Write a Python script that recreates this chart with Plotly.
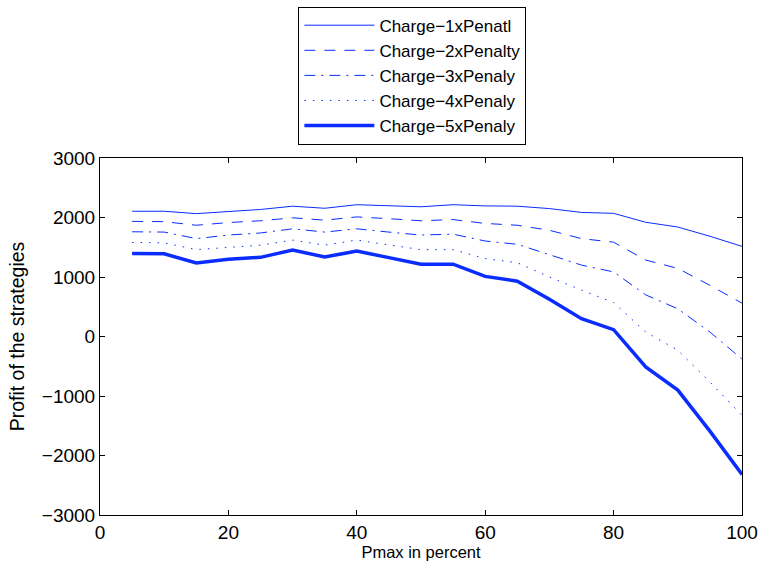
import plotly.graph_objects as go

# Pmax values (percent)
pmax = [5, 10, 15, 20, 25, 30, 35, 40, 45, 50, 55, 60, 65, 70, 75, 80, 85, 90, 95, 100]

# Profit of each strategy, per penalty multiplier
charge_1x = [2105, 2105, 2065, 2095, 2135, 2190, 2155, 2215, 2195, 2180, 2215, 2195, 2190, 2150, 2085, 2070, 1920, 1840, 1685, 1515]
charge_2x = [1935, 1930, 1870, 1915, 1945, 1995, 1955, 2010, 1980, 1945, 1965, 1900, 1870, 1785, 1645, 1585, 1285, 1145, 860, 560]
charge_3x = [1760, 1755, 1645, 1705, 1740, 1810, 1755, 1810, 1755, 1705, 1720, 1605, 1550, 1380, 1200, 1085, 700, 465, 75, -380]
charge_4x = [1580, 1575, 1460, 1495, 1535, 1620, 1535, 1620, 1535, 1460, 1460, 1310, 1240, 1000, 780, 570, 75, -230, -765, -1325]
charge_5x = [1395, 1390, 1235, 1300, 1330, 1455, 1335, 1435, 1325, 1215, 1215, 1010, 930, 625, 300, 115, -510, -900, -1590, -2320]

series_names = ["Charge−1xPenatl", "Charge−2xPenalty", "Charge−3xPenaly", "Charge−4xPenaly", "Charge−5xPenaly"]
x_ticks = [0, 20, 40, 60, 80, 100]
y_ticks = [-3000, -2000, -1000, 0, 1000, 2000, 3000]

blue = "#0a2cff"
styles = [
    dict(width=1, dash="solid"),
    dict(width=1, dash="11px,9px"),
    dict(width=1, dash="11px,6px,2px,6px"),
    dict(width=1, dash="1.5px,7px"),
    dict(width=3.5, dash="solid"),
]

fig = go.Figure()
for name, values, st in zip(series_names, [charge_1x, charge_2x, charge_3x, charge_4x, charge_5x], styles):
    fig.add_trace(go.Scatter(
        x=pmax, y=values, name=name, mode="lines",
        line=dict(color=blue, width=st["width"], dash=st["dash"]),
    ))

font_family = "Liberation Sans, Arial, sans-serif"
axis_common = dict(
    showline=True, linecolor="black", linewidth=1, mirror="ticks",
    ticks="inside", ticklen=5, tickcolor="black", tickwidth=1,
    showgrid=False, zeroline=False, automargin=False,
    tickfont=dict(family=font_family, size=19, color="black"),
)

fig.update_layout(
    width=761, height=566,
    margin=dict(l=99.5, r=18.5, t=158, b=51, autoexpand=False),
    paper_bgcolor="white", plot_bgcolor="white",
    font=dict(family=font_family, color="black"),
    xaxis=dict(range=[0, 100], tickvals=x_ticks,
               title=dict(text="Pmax in percent", font=dict(family=font_family, size=16.5), standoff=0),
               **axis_common),
    yaxis=dict(range=[-3000, 3000], tickvals=y_ticks,
               title=dict(text="Profit of the strategies", font=dict(family=font_family, size=19.5), standoff=12),
               **axis_common),
    legend=dict(
        x=0.309, y=1.424, xanchor="left", yanchor="top",
        bordercolor="black", borderwidth=1, bgcolor="white",
        font=dict(family=font_family, size=17, color="black"),
        itemwidth=70, tracegroupgap=0,
    ),
)

fig.write_html("out.html")
